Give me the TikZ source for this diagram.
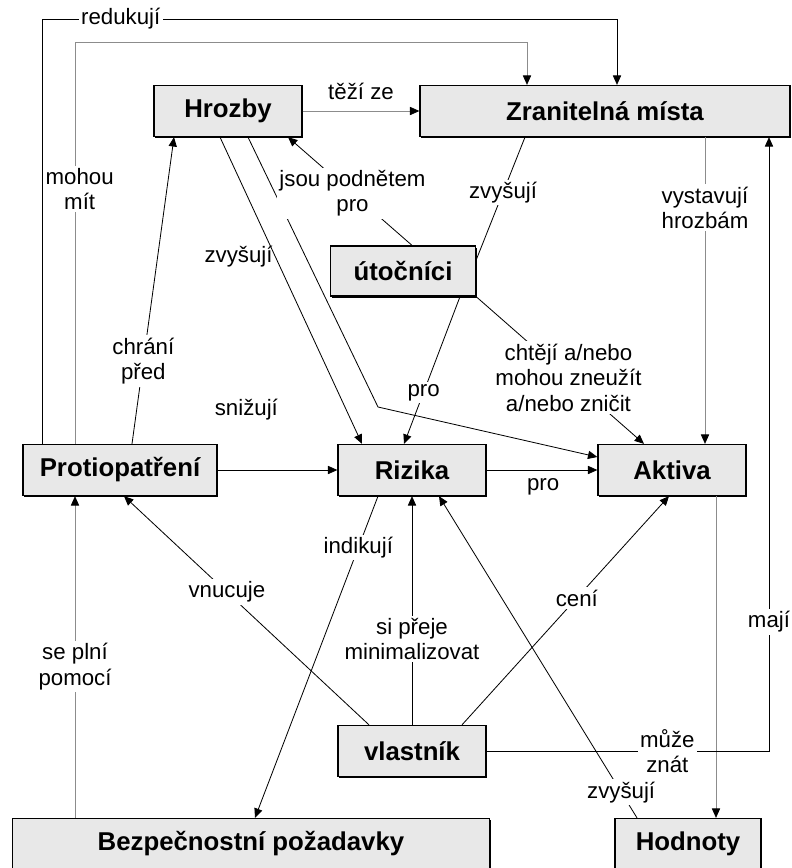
\documentclass[tikz,border=0pt]{standalone}
\usepackage{fontspec}
\setmainfont{Liberation Sans}
\usetikzlibrary{arrows.meta, positioning, shadows}

\begin{document}
\begin{tikzpicture}[x=0.03cm, y=-0.03cm,
    box/.style={draw, line width=1.1pt, fill=black!9, inner sep=0pt, minimum height=1.53cm,
        font=\bfseries\fontsize{22}{26}\selectfont,
        drop shadow={shadow xshift=1.1pt, shadow yshift=-1.3pt, opacity=1, fill=black}},
    lbl/.style={fill=white, inner sep=2pt, align=center, font=\fontsize{19}{21.8}\selectfont},
    rel/.style={line width=0.7pt, -{Triangle[length=8pt, width=7pt]}},
    faint/.style={draw=black!45, -{Triangle[length=8pt, width=7pt, color=black]}}]
    \useasboundingbox (0,0) rectangle (792,868);

    % concepts
    \node[box, minimum width=4.44cm] (hrozby) at (228,111) {Hrozby};
    \node[box, minimum width=11.1cm] (zran) at (605,111) {Zranitelná místa};
    \node[box, minimum width=4.35cm, minimum height=1.5cm] (utoc) at (403,271) {útočníci};
    \node[box, minimum width=5.82cm] (proti) at (120,470) {Protiopatření};
    \node[box, minimum width=4.44cm] (rizika) at (412,470) {Rizika};
    \node[box, minimum width=4.44cm] (aktiva) at (672,470) {Aktiva};
    \node[box, minimum width=4.44cm] (vlast) at (412,751) {vlastník};
    \node[box, minimum width=14.31cm] (bezp) at (251,844) {Bezpečnostní požadavky};
    \node[box, minimum width=4.38cm] (hodn) at (688,844) {Hodnoty};

    % relations
    \draw[rel] (proti.north -| 42,0) -- (42,19) -- node[lbl, pos=0.137]{redukují} (617,19) -- (zran.north -| 617,0);
    \draw[rel, faint] (proti.north -| 75,0) -- node[lbl, pos=0.634, xshift=4pt]{mohou\\mít} (75,42) -- (527,42) -- (zran.north -| 527,0);
    \draw[rel, faint] (hrozby) -- node[lbl, fill=none, above=7pt]{těží ze} (zran);
    \draw[rel] (proti.north -| 132,0) -- node[lbl, pos=0.27]{chrání\\před} (hrozby.south -| 174,0);
    \draw[rel] (hrozby.south -| 220,0) -- node[lbl, fill=none, pos=0.39, left]{zvyšují} (rizika.north -| 362,0);
    \draw[rel] (hrozby.south -| 248,0) -- (378,407) -- (aktiva.west |- 0,457);
    \draw[rel] (utoc.north -| 412,0) -- node[lbl, pos=0.48]{jsou podnětem\\pro} (hrozby.south -| 288,0);
    \draw[line width=0.7pt] (zran.south -| 525,0) -- node[lbl, pos=0.45]{zvyšují} (utoc.east |- 0,260);
    \draw[rel] (utoc.south -| 460,0) -- node[lbl, pos=0.65]{pro} (rizika.north -| 404,0);
    \draw[rel] (utoc.south east) -- node[lbl, pos=0.55]{chtějí a/nebo\\mohou zneužít\\a/nebo zničit} (aktiva.north -| 644,0);
    \draw[rel, faint] (zran.south -| 705,0) -- node[lbl, pos=0.23]{vystavují\\hrozbám} (aktiva.north -| 705,0);
    \draw[rel] (proti) -- node[lbl, fill=none, pos=0.24, above=40pt]{snižují} (rizika);
    \draw[rel] (rizika) -- node[lbl, fill=none, pos=0.51, below=5pt]{pro} (aktiva);
    \draw[rel] (rizika.south -| 378,0) -- node[lbl, pos=0.16]{indikují} (bezp.north -| 255,0);
    \draw[rel] (vlast.north -| 369,0) -- node[lbl, pos=0.58]{vnucuje} (proti.south -| 124,0);
    \draw[rel] (vlast) -- node[lbl, pos=0.375]{si přeje\\minimalizovat} (rizika);
    \draw[rel] (vlast.north -| 462,0) -- node[lbl, pos=0.555]{cení} (aktiva.south -| 669,0);
    \draw[rel, faint] (bezp.north -| 75,0) -- node[lbl, pos=0.47]{se plní\\pomocí} (proti.south -| 75,0);
    \draw[rel] (hodn.north -| 637,0) -- node[lbl, pos=0.08]{zvyšují} (rizika.south -| 439,0);
    \draw[rel, faint] (aktiva.south -| 716,0) -- (hodn.north -| 716,0);
    \draw[rel] (vlast.east) -- node[lbl, pos=0.64]{může\\znát} (769,751) -- node[lbl, pos=0.21]{mají} (zran.south -| 769,0);
\end{tikzpicture}
\end{document}
